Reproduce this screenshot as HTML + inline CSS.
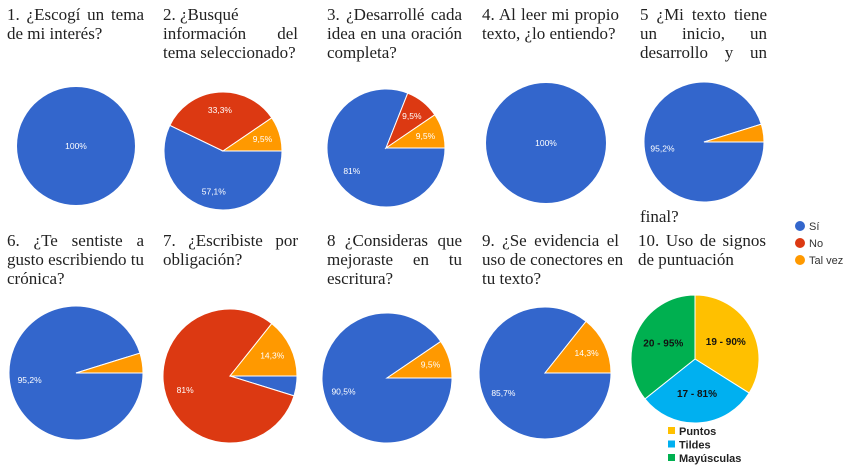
<!DOCTYPE html>
<html><head><meta charset="utf-8"><style>
body{margin:0;background:#fff;width:850px;height:466px;overflow:hidden;position:relative;font-family:"Liberation Serif",serif}
.t{position:absolute;font-size:17px;line-height:19px;text-align:justify;color:#222}
.j{text-align-last:justify}
.l{display:block;white-space:nowrap}
.lj{display:block;text-align-last:justify;white-space:nowrap}
svg{position:absolute;left:0;top:0}
</style></head><body>
<div class="t" style="left:7px;top:5px;width:137px">1. ¿Escogí un tema de mi interés?</div>
<div class="t" style="left:163px;top:5px;width:135px"><span class="l">2. ¿Busqué</span><span class="lj">información del</span><span class="l">tema seleccionado?</span></div>
<div class="t" style="left:327px;top:5px;width:135px">3. ¿Desarrollé cada idea en una oración completa?</div>
<div class="t" style="left:482px;top:5px;width:137px">4. Al leer mi propio texto, ¿lo entiendo?</div>
<div class="t j" style="left:640px;top:5px;width:127px">5 ¿Mi texto tiene un inicio, un desarrollo y un</div>
<div class="t" style="left:640px;top:207px;width:127px">final?</div>
<div class="t" style="left:7px;top:231px;width:137px">6. ¿Te sentiste a gusto escribiendo tu crónica?</div>
<div class="t" style="left:163px;top:231px;width:135px">7. ¿Escribiste por obligación?</div>
<div class="t" style="left:327px;top:231px;width:135px">8 ¿Consideras que mejoraste en tu escritura?</div>
<div class="t" style="left:482px;top:231px;width:137px"><span class="lj">9. ¿Se evidencia el</span><span class="lj">uso de conectores en</span><span class="l">tu texto?</span></div>
<div class="t" style="left:638px;top:231px;width:128px">10. Uso de signos de puntuación</div>
<svg id="c" width="850" height="466"></svg>
<script>
const questions=["q1","q2","q3","q4","q5","q6","q7","q8","q9"];
const siValues=[100,57.1,81,100,95.2,95.2,4.8,90.5,85.7];
const noValues=[0,33.3,9.5,0,0,0,81,0,0];
const talvezValues=[0,9.5,9.5,0,4.8,4.8,14.3,9.5,14.3];
const siLabels=["100%","57,1%","81%","100%","95,2%","95,2%","","90,5%","85,7%"];
const noLabels=["","33,3%","9,5%","","","","81%","",""];
const talvezLabels=["","9,5%","9,5%","","","","14,3%","9,5%","14,3%"];
const q10Cats=["Puntos","Tildes","Mayúsculas"];
const q10Counts=[19,17,20];
const q10Labels=["19 - 90%","17 - 81%","20 - 95%"];
const colors=["#3366cc","#dc3912","#ff9900"];
const q10Colors=["#ffc000","#00b0f0","#00b050"];
const geo=[[76,146,59],[223,151,59],[386,148,59],[546,143,60],[704,142,60],[76,373,67],[230,376,67],[387,378,65],[545,373,66]];
const NS="http://www.w3.org/2000/svg";
const svg=document.getElementById('c');
function mk(t,a){const e=document.createElementNS(NS,t);for(const k in a)e.setAttribute(k,a[k]);svg.appendChild(e);return e;}
function pie(cx,cy,r,vals,cols,labels,start,name,lblStyle){
  const tot=vals.reduce((a,b)=>a+b,0);let a=start;
  vals.forEach((v,i)=>{
    if(v<=0)return;const sw=v/tot*2*Math.PI;let e;
    if(v>=tot){e=mk('circle',{cx,cy,r,fill:cols[i]});}
    else{const x1=cx+r*Math.cos(a),y1=cy+r*Math.sin(a),x2=cx+r*Math.cos(a+sw),y2=cy+r*Math.sin(a+sw);
      e=mk('path',{d:`M${cx},${cy}L${x1},${y1}A${r},${r} 0 ${sw>Math.PI?1:0} 1 ${x2},${y2}Z`,fill:cols[i],stroke:'#fff','stroke-width':1});}
    
    
    if(labels[i]){const m=a+sw/2,lr=v>=tot?0:r*lblStyle.k;
      const t=mk('text',{x:cx+lr*Math.cos(m),y:cy+lr*Math.sin(m)+3,'text-anchor':'middle',fill:lblStyle.fill,'font-size':lblStyle.fs,'font-weight':lblStyle.fw,'font-family':'Liberation Sans, sans-serif'});
      t.textContent=labels[i];
      
      }
    a+=sw;});
}
questions.forEach((q,i)=>{const g=geo[i];
  pie(g[0],g[1],g[2],[siValues[i],noValues[i],talvezValues[i]],colors,[siLabels[i],noLabels[i],talvezLabels[i]],0,q,{k:0.7,fill:'#fff',fs:8.5,fw:'normal'});});
pie(695,359,64,q10Counts,q10Colors,q10Labels,-Math.PI/2,'q10',{k:0.55,fill:'#111',fs:10,fw:'bold'});
const legNames=["Sí","No","Tal vez"];
legNames.forEach((n,i)=>{const y=226+i*17;
  const c=mk('circle',{cx:800,cy:y,r:5,fill:colors[i]});
  
  
  const t=mk('text',{x:809,y:y+4,'font-size':11,fill:'#333','font-family':'Liberation Sans, sans-serif'});t.textContent=n;
  
  });
q10Cats.forEach((n,i)=>{const y=431+i*13.5;
  const r=mk('rect',{x:668,y:y-4,width:7,height:7,fill:q10Colors[i]});
  
  
  const t=mk('text',{x:679,y:y+4,'font-size':11,'font-weight':'bold',fill:'#222','font-family':'Liberation Sans, sans-serif'});t.textContent=n;
  
  });
</script>
</body></html>
